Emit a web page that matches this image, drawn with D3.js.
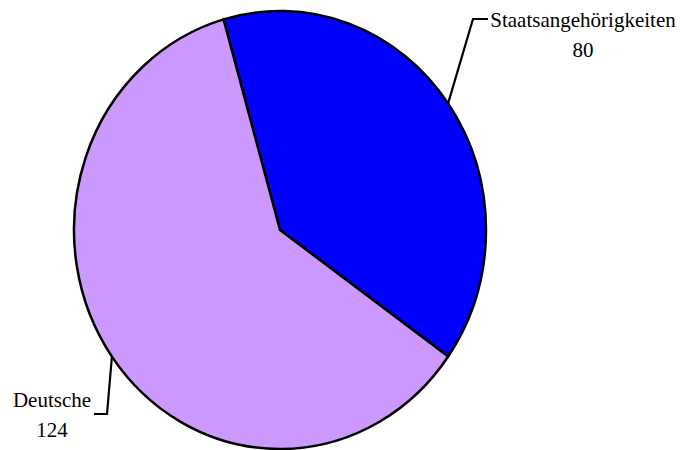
<!DOCTYPE html>
<html>
<head>
<meta charset="utf-8">
<script src="https://cdn.jsdelivr.net/npm/d3@7"></script>
<style>
  body { margin: 0; background: #fff; }
  .lbl { font-family: "Times New Roman", "Liberation Serif", Tinos, "DejaVu Serif", serif; font-size: 21px; fill: #000; }
</style>
</head>
<body>
<svg id="chart" width="681" height="450"></svg>
<script>
const categories = ["Staatsangehörigkeiten", "Deutsche"];
const values = [80, 124];
const colors = ["#0000FF", "#CC99FF"];

const svg = d3.select("#chart");
const cx = 280, cy = 230;
const rx = 206, ry = 219;

const data = categories.map(function (c, i) { return { name: c, value: values[i], color: colors[i] }; });

// first slice starts a little left of 12 o'clock
const start = -15.9 * Math.PI / 180;
const pie = d3.pie()
    .value(function (d) { return d.value; })
    .sort(null)
    .startAngle(start)
    .endAngle(start + 2 * Math.PI);
const arcs = pie(data);

const arc = d3.arc().innerRadius(0).outerRadius(rx);

const g = svg.append("g")
    .attr("transform", "translate(" + cx + "," + cy + ") scale(1," + (ry / rx) + ")");

g.selectAll("path")
    .data(arcs)
    .enter().append("path")
    .attr("d", arc)
    .attr("fill", function (d) { return d.data.color; })
    .attr("stroke", "#000")
    .attr("stroke-width", 2.5)
    .attr("stroke-linejoin", "round")
    .attr("vector-effect", "non-scaling-stroke");

// label layout: elbow of leader, end of leader, text anchor point
const labelLayout = [
    { elbow: [473, 19], end: [488, 19], tx: 583, ty: 27 },
    { elbow: [107, 414], end: [94, 414], tx: 52, ty: 407 }
];

arcs.forEach(function (d, i) {
    const a = (d.startAngle + d.endAngle) / 2;
    const p0 = [cx + rx * Math.sin(a), cy - ry * Math.cos(a)];
    const L = labelLayout[i];
    svg.append("path")
        .attr("d", d3.line()([p0, L.elbow, L.end]))
        .attr("fill", "none")
        .attr("stroke", "#000")
        .attr("stroke-width", 2.2);
    const t = svg.append("text")
        .attr("class", "lbl")
        .attr("text-anchor", "middle")
        .attr("x", L.tx)
        .attr("y", L.ty);
    t.append("tspan").attr("x", L.tx).text(d.data.name);
    t.append("tspan").attr("x", L.tx).attr("dy", 29.5).text(d.data.value);
});
</script>
</body>
</html>
